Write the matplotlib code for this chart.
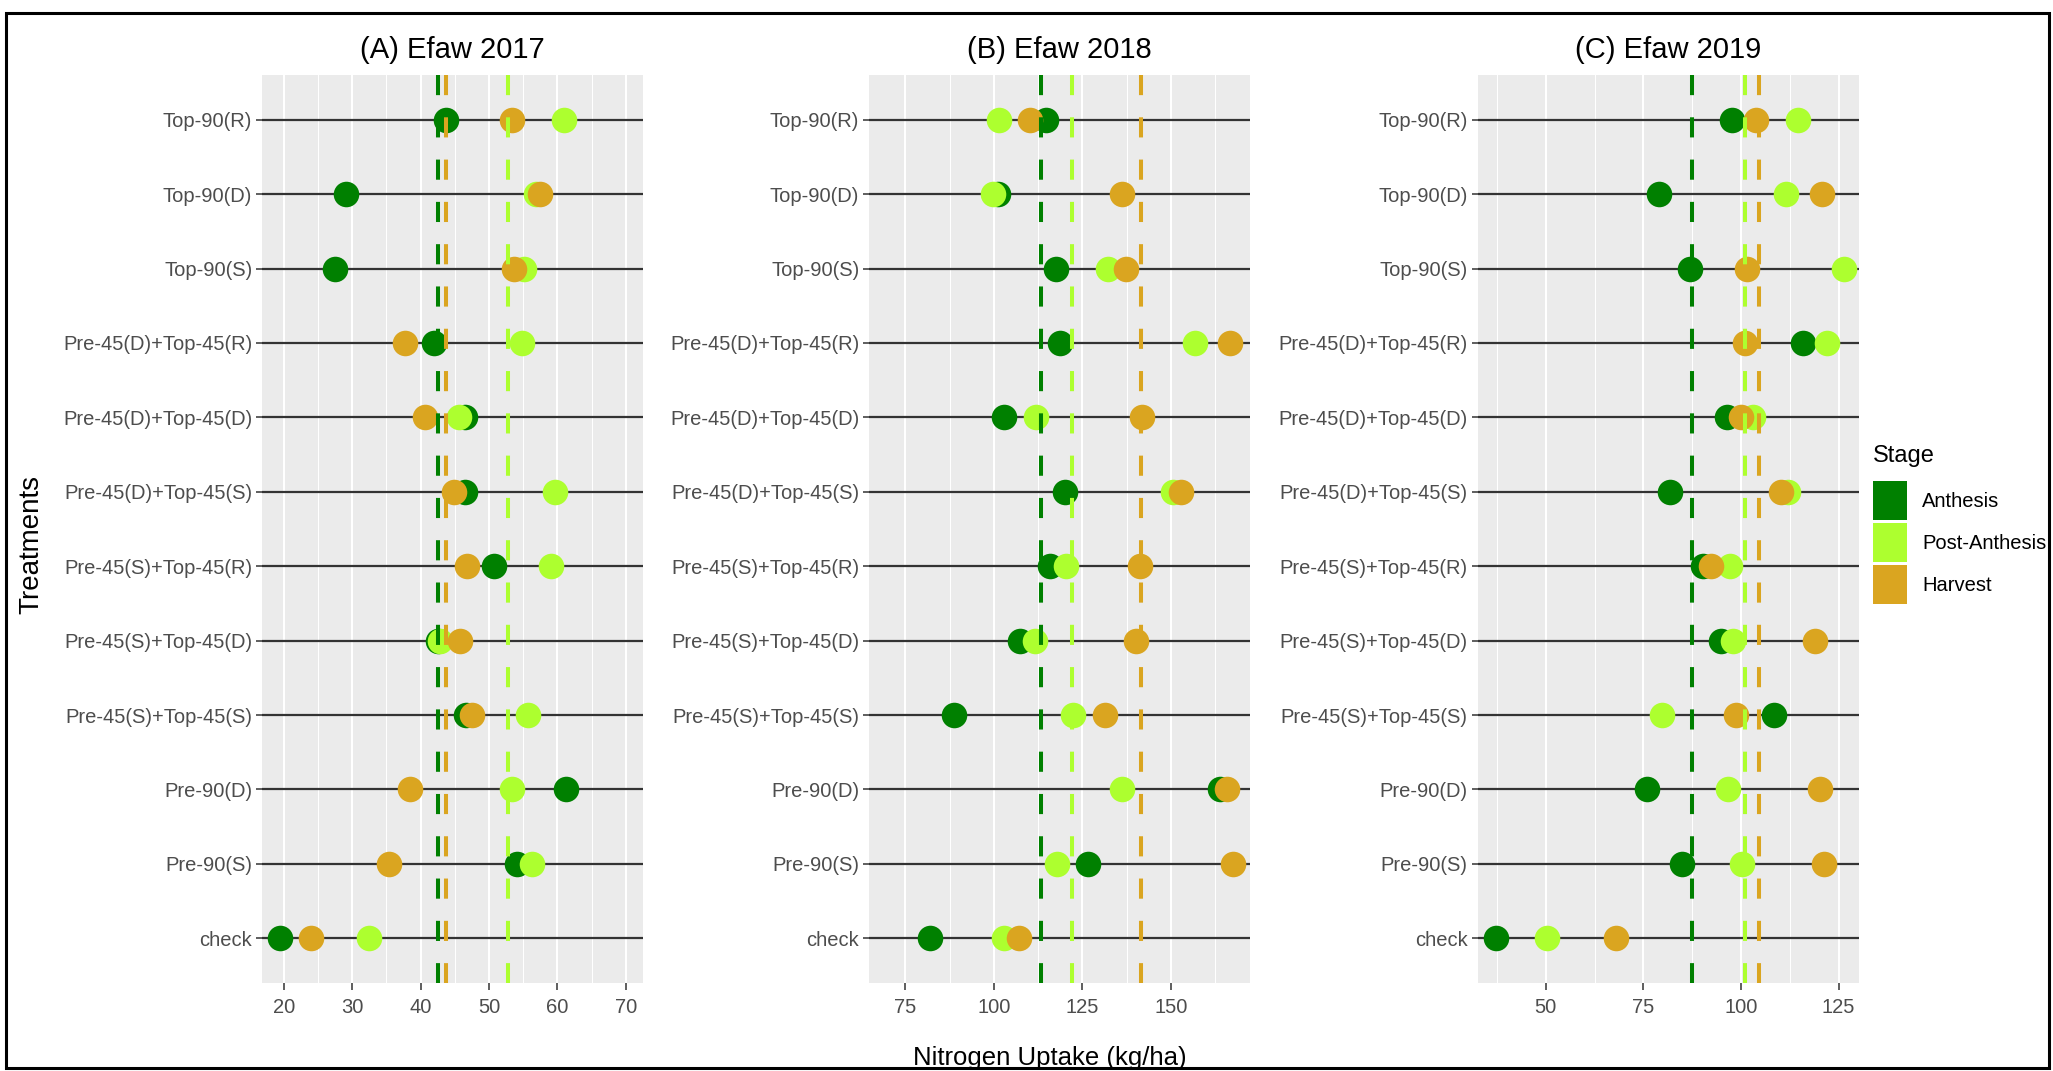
import numpy as np
import matplotlib
matplotlib.use("Agg")
import matplotlib.pyplot as plt
from matplotlib.patches import Patch, Rectangle

plt.rcParams['font.family'] = ['Liberation Sans', 'DejaVu Sans']

treatments = ["Top-90(R)", "Top-90(D)", "Top-90(S)",
              "Pre-45(D)+Top-45(R)", "Pre-45(D)+Top-45(D)", "Pre-45(D)+Top-45(S)",
              "Pre-45(S)+Top-45(R)", "Pre-45(S)+Top-45(D)", "Pre-45(S)+Top-45(S)",
              "Pre-90(D)", "Pre-90(S)", "check"]
stages = ["Anthesis", "Post-Anthesis", "Harvest"]
stage_colors = ["#008000", "#ADFF2F", "#DAA520"]

# nitrogen uptake (kg/ha), same order as treatments
anthesis_2017 = [43.7, 29.1, 27.4, 42.0, 46.5, 46.5, 50.7, 42.6, 46.6, 61.3, 54.1, 19.4]
post_2017 = [61.0, 56.8, 55.1, 54.8, 45.6, 59.6, 59.1, 42.8, 55.7, 53.3, 56.2, 32.4]
harvest_2017 = [53.3, 57.4, 53.6, 37.7, 40.6, 44.9, 46.7, 45.7, 47.5, 38.5, 35.3, 24.0]

anthesis_2018 = [114.6, 101.3, 117.5, 118.8, 103.0, 120.0, 116.0, 107.3, 88.8, 163.8, 126.5, 81.9]
post_2018 = [101.5, 99.8, 132.3, 156.9, 111.9, 150.6, 120.3, 111.6, 122.5, 136.2, 117.9, 103.0]
harvest_2018 = [110.2, 136.2, 137.3, 166.7, 141.9, 152.9, 141.3, 140.2, 131.5, 165.9, 167.6, 107.0]

anthesis_2019 = [97.7, 78.9, 87.0, 115.9, 96.3, 81.8, 90.2, 95.0, 108.4, 75.9, 84.8, 37.3]
post_2019 = [114.6, 111.6, 126.3, 122.0, 103.2, 112.0, 97.1, 98.0, 79.8, 96.7, 100.3, 50.3]
harvest_2019 = [103.8, 120.7, 101.6, 101.0, 99.9, 110.3, 92.4, 119.0, 98.6, 120.3, 121.3, 67.9]

titles = ["(A) Efaw 2017", "(B) Efaw 2018", "(C) Efaw 2019"]
panels = [
    [anthesis_2017, post_2017, harvest_2017],
    [anthesis_2018, post_2018, harvest_2018],
    [anthesis_2019, post_2019, harvest_2019],
]
xlims = [(16.8, 72.5), (64.7, 172.4), (32.5, 130.1)]
major_ticks = [[20, 30, 40, 50, 60, 70], [75, 100, 125, 150], [50, 75, 100, 125]]

W, H = 2053, 1071
fig = plt.figure(figsize=(W / 100, H / 100), dpi=100)
fig.patch.set_facecolor("white")

left_px = [262, 869, 1477.5]
top_px, bot_px, width_px = 75, 983, 381

n = len(treatments)
ypos = np.arange(n)[::-1]

for k in range(3):
    ax = fig.add_axes([left_px[k] / W, 1 - bot_px / H, width_px / W, (bot_px - top_px) / H])
    ax.set_facecolor("#EBEBEB")
    for s in ax.spines.values():
        s.set_visible(False)

    lo, hi = xlims[k]
    ax.set_xlim(lo, hi)
    ax.set_ylim(-0.6, n - 1 + 0.6)

    majors = major_ticks[k]
    step = majors[1] - majors[0]
    minors = np.arange(majors[0] - step / 2, hi, step)
    for m in minors:
        if lo < m < hi:
            ax.axvline(m, color="white", lw=0.75, zorder=0.5)
    for m in majors:
        ax.axvline(m, color="white", lw=1.5, zorder=0.6)

    ax.set_xticks(majors)
    ax.set_yticks(ypos)
    ax.set_yticklabels(treatments)
    ax.tick_params(axis="x", length=5, width=1.1, color="#333333", pad=6,
                   labelsize=14.5, labelcolor="#4D4D4D")
    ax.tick_params(axis="y", length=4, width=1.1, color="#333333", pad=3,
                   labelsize=14.5, labelcolor="#4D4D4D")

    for y in ypos:
        ax.axhline(y, color="#333333", lw=1.6, zorder=1)

    for j, vals in enumerate(panels[k]):
        ax.plot(vals, ypos, "o", ms=18.4, color=stage_colors[j], mec="none", zorder=2 + j)

    # dashed line at each stage mean
    for j, vals in enumerate(panels[k]):
        mu = np.mean(vals)
        ax.plot([mu, mu], [n - 1 + 0.6, -0.6], color=stage_colors[j], lw=2.9,
                dashes=(5, 5.5), zorder=6)

    ax.set_title(titles[k], fontsize=21, pad=12, color="black")

fig.text(31 / W, 1 - 545 / H, "Treatments", rotation=90, ha="center", va="center",
         fontsize=20, color="black")
fig.text(1050 / W, 1 - 1058 / H, "Nitrogen Uptake (kg/ha)", ha="center", va="center",
         fontsize=18.5, color="black")

# legend: title placed on its own, keys below it
fig.text(1873 / W, 1 - 456 / H, "Stage", ha="left", va="center", fontsize=17, color="black")
handles = [Patch(facecolor=c, edgecolor="none", label=s) for s, c in zip(stages, stage_colors)]
leg = fig.legend(handles=handles, loc="upper left",
                 bbox_to_anchor=(1873 / W, 1 - 481 / H), frameon=False,
                 fontsize=14.5, handlelength=1.7, handleheight=2.6,
                 labelspacing=0.15, handletextpad=0.75, borderpad=0, borderaxespad=0)

fig.add_artist(Rectangle((6 / W, 3 / H), 2043 / W, 1055 / H, transform=fig.transFigure,
                         fill=False, edgecolor="black", lw=2.2, zorder=10))

fig.savefig("out.png", dpi=100)
